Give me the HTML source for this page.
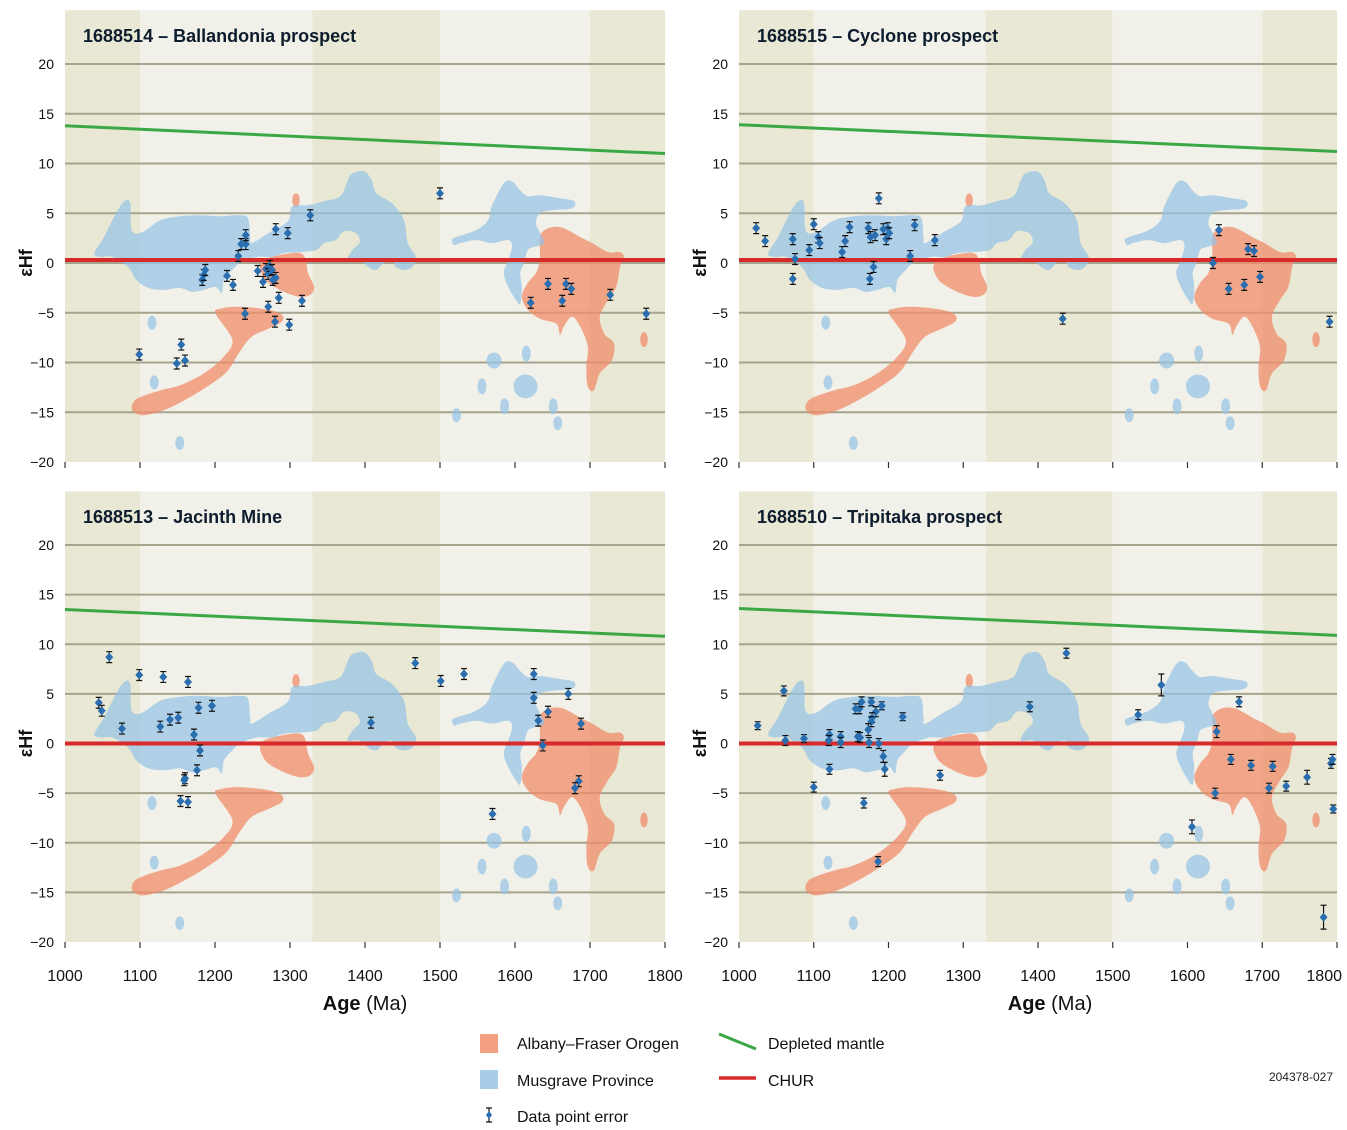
<!DOCTYPE html>
<html><head><meta charset="utf-8"><style>
body{margin:0;background:#fff;}
svg{display:block;font-family:"Liberation Sans",Arial,sans-serif;}
</style></head><body>
<svg id="c" width="1347" height="1130" viewBox="0 0 1347 1130"></svg>
<script>
// ---- data ----
const panelTitles=["1688514 – Ballandonia prospect","1688515 – Cyclone prospect","1688513 – Jacinth Mine","1688510 – Tripitaka prospect"];
const xTicks=[1000,1100,1200,1300,1400,1500,1600,1700,1800];
const yTicks=[20,15,10,5,0,-5,-10,-15,-20];
const bandEdges=[1000,1100,1330,1500,1700,1800];
const dmStart=[13.8,13.9,13.5,13.6];
const dmEnd=[11.0,11.2,10.8,10.9];
const churVal=[0.3,0.3,0,0];
const agesA=[1099,1149,1155,1160,1183,1185,1187,1216,1224,1231,1235,1241,1241,1240,1257,1264,1268,1271,1273,1276,1277,1281,1271,1280,1281,1285,1297,1299,1316,1327,1500,1621,1644,1663,1668,1675,1727,1775];
const hfA=[-9.2,-10.1,-8.2,-9.8,-1.7,-1.2,-0.7,-1.3,-2.2,0.7,1.9,1.9,2.8,-5.1,-0.8,-1.9,-0.6,-1.1,-0.3,-0.7,-1.7,-1.5,-4.4,-5.9,3.4,-3.5,3.0,-6.2,-3.8,4.8,7.0,-4.0,-2.1,-3.8,-2.1,-2.6,-3.2,-5.1];
const agesB=[1023,1035,1072,1075,1072,1094,1100,1106,1108,1138,1142,1148,1173,1176,1180,1175,1182,1193,1197,1199,1201,1187,1229,1235,1262,1433,1642,1634,1655,1676,1681,1689,1697,1790];
const hfB=[3.5,2.2,2.4,0.4,-1.6,1.3,3.9,2.6,2.0,1.1,2.2,3.6,3.5,2.6,-0.4,-1.6,2.8,3.4,2.4,3.5,3.0,6.5,0.7,3.8,2.3,-5.6,3.3,0,-2.6,-2.2,1.4,1.2,-1.4,-5.9];
const agesC=[1059,1045,1049,1076,1099,1131,1164,1127,1140,1151,1178,1196,1172,1180,1176,1160,1159,1154,1164,1408,1467,1501,1532,1625,1625,1671,1644,1631,1688,1637,1685,1680,1570];
const hfC=[8.7,4.1,3.3,1.5,6.9,6.7,6.2,1.7,2.4,2.6,3.6,3.8,0.9,-0.7,-2.7,-3.5,-3.7,-5.8,-5.9,2.1,8.1,6.3,7.0,7.0,4.6,5.0,3.2,2.3,2.0,-0.2,-3.8,-4.5,-7.1];
const agesD=[1025,1060,1062,1087,1121,1120,1136,1136,1121,1100,1156,1161,1164,1177,1191,1183,1178,1177,1173,1159,1162,1174,1187,1193,1195,1219,1269,1167,1186,1389,1438,1565,1534,1606,1639,1637,1669,1658,1685,1714,1709,1732,1760,1792,1794,1795,1782];
const hfD=[1.8,5.3,0.3,0.5,0.9,0.3,0.7,0.1,-2.6,-4.4,3.5,3.5,4.2,4.2,3.8,3.2,2.6,2.2,1.4,0.7,0.6,0.1,0.0,-1.3,-2.6,2.7,-3.2,-6.0,-11.9,3.7,9.1,5.9,2.9,-8.4,1.2,-5.0,4.2,-1.6,-2.2,-2.3,-4.5,-4.3,-3.4,-2.0,-1.6,-6.6,-17.5];
const errD=[0.4,0.5,0.5,0.4,0.5,0.5,0.5,0.5,0.5,0.5,0.5,0.5,0.5,0.4,0.4,0.5,0.5,0.5,0.6,0.5,0.5,0.5,0.5,0.6,0.7,0.4,0.5,0.5,0.5,0.5,0.5,1.1,0.5,0.7,0.6,0.5,0.5,0.5,0.5,0.5,0.5,0.5,0.7,0.5,0.5,0.4,1.2];
const seriesAges=[agesA,agesB,agesC,agesD];
const seriesHf=[hfA,hfB,hfC,hfD];
// regions (age, eHf)
const musgraveMain=[[1039,1.0],[1052,2.6],[1068,5.0],[1079,6.2],[1087,6.0],[1089,3.3],[1103,3.1],[1127,4.3],[1153,4.7],[1180,4.8],[1207,4.7],[1233,4.8],[1244,4.5],[1247,2.6],[1249,2.0],[1271,3.0],[1297,4.2],[1303,5.7],[1324,5.8],[1345,6.2],[1367,6.7],[1377,8.3],[1383,9.0],[1399,9.2],[1409,8.3],[1415,7.0],[1436,6.0],[1452,4.3],[1457,2.0],[1468,0.6],[1463,-0.4],[1452,-0.7],[1441,-0.4],[1436,0.3],[1425,0.0],[1415,-0.7],[1404,-0.4],[1393,0.3],[1377,0.3],[1383,1.3],[1393,2.1],[1388,3.0],[1372,3.2],[1361,2.3],[1345,2.0],[1335,1.3],[1313,1.1],[1292,1.0],[1276,0.6],[1255,0.6],[1233,0.0],[1223,-0.7],[1212,-1.7],[1209,-3.0],[1201,-2.4],[1185,-2.7],[1169,-2.9],[1153,-2.5],[1132,-2.7],[1111,-2.5],[1095,-1.7],[1084,-0.4],[1063,0.6],[1047,0.6]];
const musgraveRight=[[1516,2.3],[1521,2.6],[1548,3.3],[1564,4.3],[1569,5.7],[1585,8.0],[1596,8.2],[1607,7.3],[1617,6.7],[1633,6.8],[1660,6.5],[1679,6.2],[1676,5.5],[1649,5.3],[1633,5.0],[1628,4.0],[1633,3.1],[1639,2.0],[1625,1.6],[1617,1.3],[1612,0.0],[1607,-1.0],[1609,-2.4],[1607,-4.1],[1601,-3.7],[1591,-2.4],[1585,-1.0],[1591,0.3],[1596,1.6],[1591,2.3],[1569,2.0],[1548,2.3],[1527,2.0],[1519,1.8]];
const musgraveSpots=[[1116,-6.0,6,0.7],[1119,-12.0,6,0.7],[1153,-18.1,6,0.7],[1572,-9.8,10,0.8],[1615,-9.1,6,0.8],[1556,-12.4,6,0.8],[1614,-12.4,16,1.2],[1586,-14.4,6,0.8],[1651,-14.4,6,0.8],[1522,-15.3,6,0.7],[1657,-16.1,6,0.7]];
const afoMid=[[1260,-0.4],[1265,0.3],[1287,0.8],[1313,1.0],[1321,0.3],[1324,-1.0],[1332,-2.4],[1327,-3.2],[1313,-3.4],[1292,-2.9],[1271,-2.0],[1263,-1.2]];
const afoTail=[[1089,-14.4],[1097,-13.6],[1127,-12.8],[1153,-12.3],[1185,-11.1],[1212,-9.4],[1223,-7.7],[1201,-5.1],[1207,-4.6],[1233,-4.4],[1271,-4.7],[1289,-5.2],[1289,-5.9],[1271,-6.6],[1249,-7.4],[1233,-8.9],[1217,-10.8],[1196,-12.1],[1164,-13.6],[1132,-14.8],[1105,-15.3],[1092,-15.0]];
const afoRight=[[1633,2.3],[1636,3.1],[1649,3.6],[1665,3.5],[1687,2.6],[1703,2.0],[1724,1.1],[1740,1.1],[1745,0.6],[1740,-0.4],[1735,-2.4],[1724,-3.7],[1713,-5.4],[1719,-7.1],[1732,-8.1],[1729,-9.8],[1713,-11.1],[1705,-12.8],[1697,-12.4],[1695,-10.4],[1697,-8.4],[1687,-6.4],[1676,-5.4],[1665,-6.4],[1660,-7.2],[1655,-6.1],[1633,-5.6],[1617,-4.7],[1609,-3.4],[1617,-2.0],[1628,-1.0],[1633,0.3]];
const afoSpots=[[1308,6.3,5,0.7],[1772,-7.7,5,0.75]];

const panels=[{x0:65,x1:665,y20:64,ym:462},{x0:739,x1:1337,y20:64,ym:462},{x0:65,x1:665,y20:545,ym:942},{x0:739,x1:1337,y20:545,ym:942}];
const NS='http://www.w3.org/2000/svg';
const svg=document.getElementById('c');
function mk(tag,attrs,parent){const e=document.createElementNS(NS,tag);for(const k in attrs)e.setAttribute(k,attrs[k]);(parent||svg).appendChild(e);return e;}
function smoothPath(pts,sx,sy){
  const P=pts.map(p=>[sx(p[0]),sy(p[1])]);const n=P.length;let d='M'+P[0][0].toFixed(1)+','+P[0][1].toFixed(1);
  for(let i=0;i<n;i++){const p0=P[(i-1+n)%n],p1=P[i],p2=P[(i+1)%n],p3=P[(i+2)%n];
    const c1=[p1[0]+(p2[0]-p0[0])/6,p1[1]+(p2[1]-p0[1])/6],c2=[p2[0]-(p3[0]-p1[0])/6,p2[1]-(p3[1]-p1[1])/6];
    d+='C'+c1[0].toFixed(1)+','+c1[1].toFixed(1)+' '+c2[0].toFixed(1)+','+c2[1].toFixed(1)+' '+p2[0].toFixed(1)+','+p2[1].toFixed(1);}
  return d+'Z';}
const ORANGE='rgba(240,140,105,0.75)',BLUE='rgba(150,195,228,0.72)';
panels.forEach((P,pi)=>{
  const sx=a=>P.x0+(a-1000)/800*(P.x1-P.x0);
  const sy=v=>P.y20+(20-v)/40*(P.ym-P.y20);
  const g=mk('g',{});
  
  
  for(let i=0;i<bandEdges.length-1;i++){
    const r=mk('rect',{x:sx(bandEdges[i]),y:sy(25.4),width:sx(bandEdges[i+1])-sx(bandEdges[i]),height:sy(-20)-sy(25.4),fill:i%2?'#f1f1e9':'#e9e8d5'},g);
    
    
  }
  yTicks.forEach(t=>{
    if(t>-20){const l=mk('line',{x1:P.x0,x2:P.x1,y1:sy(t),y2:sy(t),stroke:'#a6a48e','stroke-width':2},g);
    
    }
    const tx=mk('text',{x:P.x0-11,y:sy(t)+5,'text-anchor':'end','font-size':14,fill:'#111'},g);
    tx.textContent=t<0?'−'+(-t):String(t);
    
    
  });
  xTicks.forEach((t,ti)=>{
    const l=mk('line',{x1:sx(t),x2:sx(t),y1:P.ym,y2:P.ym+6,stroke:'#333','stroke-width':1.2},g);
    
    
    if(pi>=2){
      const last=(pi===3&&ti===xTicks.length-1);
      const tx=mk('text',{x:last?1342:sx(t),y:P.ym+39,'text-anchor':last?'end':'middle','font-size':16,fill:'#111'},g);
      tx.textContent=t;
      
      }
  });
  const yt=mk('text',{x:0,y:0,transform:'translate('+(P.x0-33)+','+sy(0)+') rotate(-90)','text-anchor':'middle','font-size':18,'font-weight':'bold',fill:'#111'},g);
  yt.textContent='εHf';
  
  
  [afoMid,afoTail,afoRight].forEach(r=>{const p=mk('path',{d:smoothPath(r,sx,sy),fill:ORANGE},g);
    
    });
  afoSpots.forEach(s=>{const e=mk('ellipse',{cx:sx(s[0]),cy:sy(s[1]),rx:s[2]*(P.x1-P.x0)/800,ry:s[3]*(P.ym-P.y20)/40,fill:ORANGE},g);
    
    });
  [musgraveMain,musgraveRight].forEach(r=>{const p=mk('path',{d:smoothPath(r,sx,sy),fill:BLUE},g);
    
    });
  musgraveSpots.forEach(s=>{const e=mk('ellipse',{cx:sx(s[0]),cy:sy(s[1]),rx:s[2]*(P.x1-P.x0)/800,ry:s[3]*(P.ym-P.y20)/40,fill:BLUE},g);
    
    });
  const dm=mk('line',{x1:sx(1000),x2:sx(1800),y1:sy(dmStart[pi]),y2:sy(dmEnd[pi]),stroke:'#3aa845','stroke-width':3},g);
  
  
  const ch=mk('line',{x1:sx(1000),x2:sx(1800),y1:sy(churVal[pi]),y2:sy(churVal[pi]),stroke:'#d82a2a','stroke-width':4},g);
  
  
  const A=seriesAges[pi],H=seriesHf[pi];
  A.forEach((a,i)=>{
    const x=sx(a),y=sy(H[i]);const e=(pi===3?errD[i]:0.55)*(P.ym-P.y20)/40;
    const pg=mk('g',{},g);
    
    
    mk('path',{d:`M${x},${y-e}V${y+e}M${x-3},${y-e}H${x+3}M${x-3},${y+e}H${x+3}`,stroke:'#111','stroke-width':1.2,fill:'none'},pg);
    mk('path',{d:`M${x},${y-4.5}L${x+4},${y}L${x},${y+4.5}L${x-4},${y}Z`,fill:'#2a6eb0'},pg);
  });
  const tt=mk('text',{x:P.x0+18,y:P.y20-22,'font-size':18,'font-weight':'bold',fill:'#0d1d2e'},g);
  tt.textContent=panelTitles[pi];
  
  
});
[[365],[1050]].forEach(v=>{const t=mk('text',{x:v[0],y:1010,'text-anchor':'middle','font-size':20,fill:'#111'});
  
  
  t.innerHTML='<tspan font-weight="bold">Age</tspan> (Ma)';});
const lg=mk('g',{});


mk('rect',{x:480,y:1034,width:18,height:19,fill:'#f2a07f'},lg);
mk('rect',{x:480,y:1070,width:18,height:19,fill:'#a8cde8'},lg);
mk('path',{d:'M489,1108V1122M486,1108H492M486,1122H492',stroke:'#111','stroke-width':1.2},lg);
mk('path',{d:'M489,1111L492,1115L489,1119L486,1115Z',fill:'#2a6eb0'},lg);
mk('line',{x1:719,x2:756,y1:1034,y2:1049,stroke:'#3aa845','stroke-width':3},lg);
mk('line',{x1:719,x2:756,y1:1078,y2:1078,stroke:'#d82a2a','stroke-width':3.5},lg);
[[517,1049,'Albany–Fraser Orogen'],[517,1086,'Musgrave Province'],[517,1122,'Data point error'],[768,1049,'Depleted mantle'],[768,1086,'CHUR']].forEach(d=>{
  const t=mk('text',{x:d[0],y:d[1],'font-size':16,fill:'#111'},lg);t.textContent=d[2];
  
  });
const fid=mk('text',{x:1333,y:1081,'text-anchor':'end','font-size':12,fill:'#222'});
fid.textContent='204378-027';


</script>
</body></html>
